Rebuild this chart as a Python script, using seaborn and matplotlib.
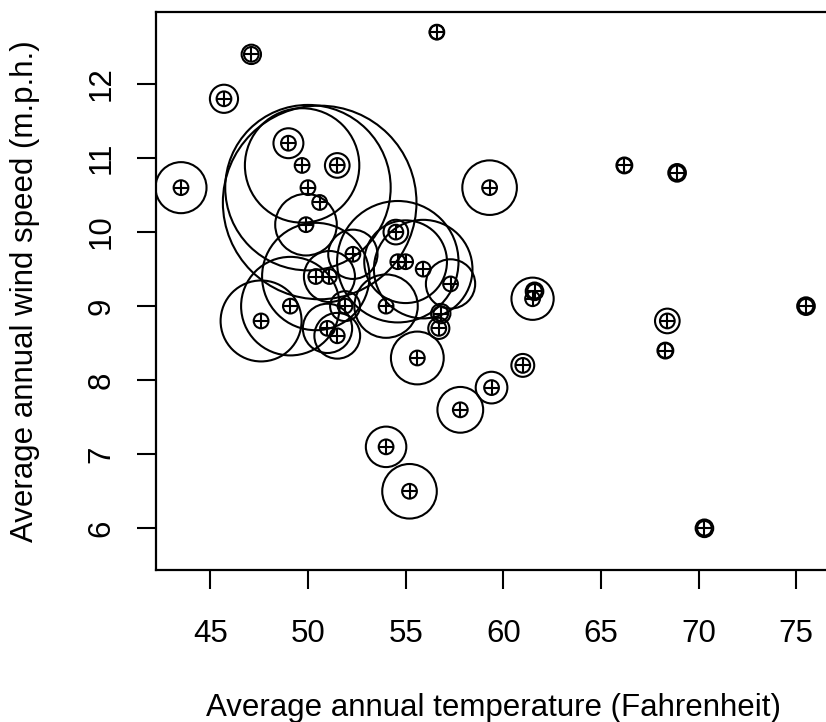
import numpy as np
import pandas as pd
import matplotlib
matplotlib.use("Agg")
import matplotlib.pyplot as plt
import seaborn as sns

# US air pollution data: SO2 content, mean temperature and mean wind speed per city
city = ["Albany", "Albuquerque", "Atlanta", "Baltimore", "Buffalo", "Charleston",
        "Chicago", "Cincinnati", "Cleveland", "Columbus", "Dallas", "Denver",
        "Des Moines", "Detroit", "Hartford", "Houston", "Indianapolis",
        "Jacksonville", "Kansas City", "Little Rock", "Louisville", "Memphis",
        "Miami", "Milwaukee", "Minneapolis", "Nashville", "New Orleans",
        "Norfolk", "Omaha", "Philadelphia", "Phoenix", "Pittsburgh",
        "Providence", "Richmond", "Salt Lake City", "San Francisco", "Seattle",
        "St. Louis", "Washington", "Wichita", "Wilmington"]
so2 = [46, 11, 24, 47, 11, 31, 110, 23, 65, 26, 9, 17, 17, 35, 56, 10, 28, 14,
       14, 13, 30, 10, 10, 16, 29, 18, 9, 31, 14, 69, 10, 61, 94, 26, 28, 12,
       29, 56, 28, 8, 36]
temp = [47.6, 56.8, 61.5, 55.0, 47.1, 55.2, 50.6, 54.0, 49.7, 51.5, 66.2, 51.9,
        49.0, 49.9, 49.1, 68.9, 52.3, 68.4, 54.5, 61.0, 55.6, 61.6, 75.5, 45.7,
        43.5, 59.4, 68.3, 59.3, 51.5, 54.6, 70.3, 50.4, 50.0, 57.8, 51.0, 56.7,
        51.1, 55.9, 57.3, 56.6, 54.0]
wind = [8.8, 8.9, 9.1, 9.6, 12.4, 6.5, 10.4, 7.1, 10.9, 8.6, 10.9, 9.0, 11.2,
        10.1, 9.0, 10.8, 9.7, 8.8, 10.0, 8.2, 8.3, 9.2, 9.0, 11.8, 10.6, 7.9,
        8.4, 10.6, 10.9, 9.6, 6.0, 9.4, 10.6, 7.6, 8.7, 8.7, 9.4, 9.5, 9.3,
        12.7, 9.0]

x_ticks = [45, 50, 55, 60, 65, 70, 75]
y_ticks = [6, 7, 8, 9, 10, 11, 12]

df = pd.DataFrame({"city": city, "SO2": so2, "temp": temp, "wind": wind})

sns.set_theme(style="white")
plt.rcParams["font.family"] = ["Liberation Sans", "DejaVu Sans"]

DPI = 100
fig = plt.figure(figsize=(8.26, 7.22), dpi=DPI)
ax = fig.add_axes([156 / 826, 152 / 722, 675 / 826, 558 / 722])

# bubble radius proportional to SO2
px_per_unit = 0.88
pt_per_px = 72 / DPI
bubble_sizes = {v: (2 * v * px_per_unit * pt_per_px) ** 2 for v in sorted(set(so2))}

lw = 1.5
sns.scatterplot(data=df, x="temp", y="wind", size="SO2", sizes=bubble_sizes,
                marker="o", facecolors="none", edgecolor="black", linewidth=lw,
                legend=False, ax=ax, zorder=3)
# circled-plus point symbol at each city
sym = 10.6 ** 2
sns.scatterplot(data=df, x="temp", y="wind", s=sym, marker="o",
                facecolors="none", edgecolor="black", linewidth=lw,
                legend=False, ax=ax, zorder=4)
sns.scatterplot(data=df, x="temp", y="wind", s=sym, marker="+",
                color="black", linewidth=lw, legend=False, ax=ax, zorder=4)

ax.set_xlim(42.22, 76.78)
ax.set_ylim(5.437, 12.972)
ax.set_xticks(x_ticks)
ax.set_yticks(y_ticks)

fs = 22.5
ax.tick_params(axis="both", which="major", bottom=True, left=True,
               direction="out", length=14, width=lw, color="black",
               labelsize=fs, labelcolor="black")
ax.tick_params(axis="x", pad=21.5)
ax.tick_params(axis="y", pad=14.5)
for lab in ax.get_yticklabels():
    lab.set_rotation(90)
    lab.set_va("center")

for s in ax.spines.values():
    s.set_color("black")
    s.set_linewidth(1.6)

ax.set_xlabel("Average annual temperature (Fahrenheit)", fontsize=fs,
              color="black")
ax.set_ylabel("Average annual wind speed (m.p.h.)", fontsize=fs,
              color="black")
ax.xaxis.set_label_coords(0.5, (570 - 693) / 558)
ax.yaxis.set_label_coords((40 - 156) / 675, 0.5)

fig.savefig("out.png", dpi=DPI, facecolor="white")
